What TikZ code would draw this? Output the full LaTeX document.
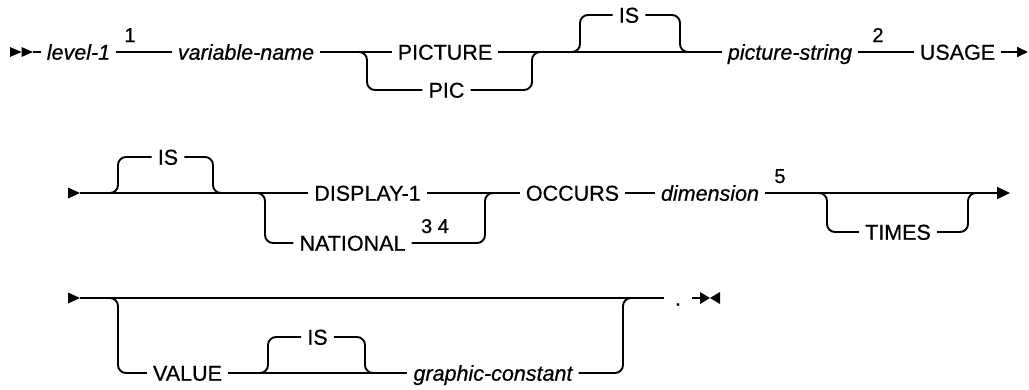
\documentclass[tikz,border=0pt]{standalone}
\usepackage{fontspec}
\setmainfont{Liberation Sans}[FakeBold=0.6]
\newfontfamily\kwfont{Liberation Sans}[FakeBold=0.6,AutoFakeBold=0.6]
\usetikzlibrary{arrows.meta,calc}
\begin{document}
\begin{tikzpicture}[x=1pt,y=-1pt,
  rr/.style={line width=1.9pt, rounded corners=8pt},
  kw/.style={font=\kwfont\bfseries\fontsize{21.5}{24}\selectfont, inner xsep=6pt, inner ysep=0pt, text height=15.4pt, text depth=0pt, anchor=center},
  var/.style={kw, font=\kwfont\bfseries\itshape\fontsize{21.5}{24}\selectfont},
  note/.style={font=\kwfont\bfseries\fontsize{20}{22}\selectfont, inner sep=0pt, anchor=base},
  dotnode/.style={kw, inner xsep=11pt},
  tipa/.style={-{Triangle[length=11pt,width=10pt]}},
  tipb/.style={-{Triangle[length=13pt,width=12pt]}}
]
\useasboundingbox (0,0) rectangle (1029,389);

% ---------- row 1 ----------
\coordinate (s1) at (33,52);
\fill (10,47) -- (21.5,52) -- (10,57) -- cycle;
\fill (21.5,47) -- (33,52) -- (21.5,57) -- cycle;
\node[var] (lvl) at (78.5,52) {level-1};
\node[note] (n1) at (130,42) {1};
\node[var] (vn) at (246,52) {variable-name};
\node[kw] (pic) at (445,52) {PICTURE};
\node[kw] (pc) at (446.5,90) {PIC};
\coordinate (f1) at (367,52);
\coordinate (j1) at (532,52);
\node[kw] (is1) at (629,15) {IS};
\coordinate (b1l) at (580,52);
\coordinate (b1r) at (680,52);
\node[var] (ps) at (790,52) {picture-string};
\node[note] (n2) at (878,42) {2};
\node[kw] (us) at (957.5,52) {USAGE};
\coordinate (e1) at (1028,52);

\draw[rr] (s1) -- (lvl.west);
\draw[rr] (lvl.east) -- (vn.west);
\draw[rr] (vn.east) -- (pic.west);
\draw[rr] (pic.east) -- (j1);
\draw[rr] ($(f1)+(-8,0)$) -- (f1) -- (f1 |- pc) -- (pc.west);
\draw[rr] (pc.east) -- (j1 |- pc) -- (j1) -- ++(8,0);
\draw[rr] (j1) -- (ps.west);
\draw[rr] ($(b1l)+(-8,0)$) -- (b1l) -- (b1l |- is1) -- (is1.west);
\draw[rr] (is1.east) -- (b1r |- is1) -- (b1r) -- ++(8,0);
\draw[rr] (ps.east) -- (us.west);
\draw[line width=1.9pt, tipa] (us.east) -- (e1);

% ---------- row 2 ----------
\coordinate (s2) at (80,193);
\fill (68,187.5) -- (80,193) -- (68,198.5) -- cycle;
\node[kw] (is2) at (168,157) {IS};
\coordinate (b2l) at (118,193);
\coordinate (b2r) at (213,193);
\node[kw] (disp) at (367.5,193) {DISPLAY-1};
\node[kw] (nat) at (352.5,243) {NATIONAL};
\node[note] (n34) at (435,233) {3 4};
\coordinate (f2) at (265,193);
\coordinate (j2) at (485,193);
\node[kw] (occ) at (572.5,193) {OCCURS};
\node[var] (dim) at (710,193) {dimension};
\node[note] (n5) at (780,183) {5};
\coordinate (f3) at (827,193);
\coordinate (j3) at (968,193);
\node[kw] (tm) at (898,232) {TIMES};
\coordinate (e2) at (1010,193);

\draw[rr] (s2) -- (disp.west);
\draw[rr] ($(b2l)+(-8,0)$) -- (b2l) -- (b2l |- is2) -- (is2.west);
\draw[rr] (is2.east) -- (b2r |- is2) -- (b2r) -- ++(8,0);
\draw[rr] ($(f2)+(-8,0)$) -- (f2) -- (f2 |- nat) -- (nat.west);
\draw[rr] (nat.east) -- (j2 |- nat) -- (j2) -- ++(8,0);
\draw[rr] (disp.east) -- (occ.west);
\draw[rr] (occ.east) -- (dim.west);
\draw[line width=1.9pt, tipb] (dim.east) -- (e2);
\draw[rr] ($(f3)+(-8,0)$) -- (f3) -- (f3 |- tm) -- (tm.west);
\draw[rr] (tm.east) -- (j3 |- tm) -- (j3) -- ++(8,0);

% ---------- row 3 ----------
\coordinate (s3) at (80,298);
\fill (68,292.5) -- (80,298) -- (68,303.5) -- cycle;
\coordinate (f4) at (118,298);
\node[kw] (val) at (187.5,373) {VALUE};
\node[kw] (is3) at (317.5,337) {IS};
\coordinate (b3l) at (268,373);
\coordinate (b3r) at (365,373);
\node[var] (gc) at (493,373) {graphic-constant};
\coordinate (j4) at (623,298);
\node[dotnode] (dot) at (678,298) {.};
\coordinate (e3) at (700,298);

\draw[rr] (s3) -- (dot.west);
\draw[rr] ($(f4)+(-8,0)$) -- (f4) -- (f4 |- val) -- (val.west);
\draw[rr] (val.east) -- (gc.west);
\draw[rr] ($(b3l)+(-8,0)$) -- (b3l) -- (b3l |- is3) -- (is3.west);
\draw[rr] (is3.east) -- (b3r |- is3) -- (b3r) -- ++(8,0);
\draw[rr] (gc.east) -- (j4 |- gc) -- (j4) -- ++(8,0);
\draw[line width=1.9pt] (dot.east) -- (e3);
\fill (e3) ++(0,-6) -- ++(10,6) -- ++(-10,6) -- cycle;
\fill (720,292) -- (710,298) -- (720,304) -- cycle;
\end{tikzpicture}
\end{document}
